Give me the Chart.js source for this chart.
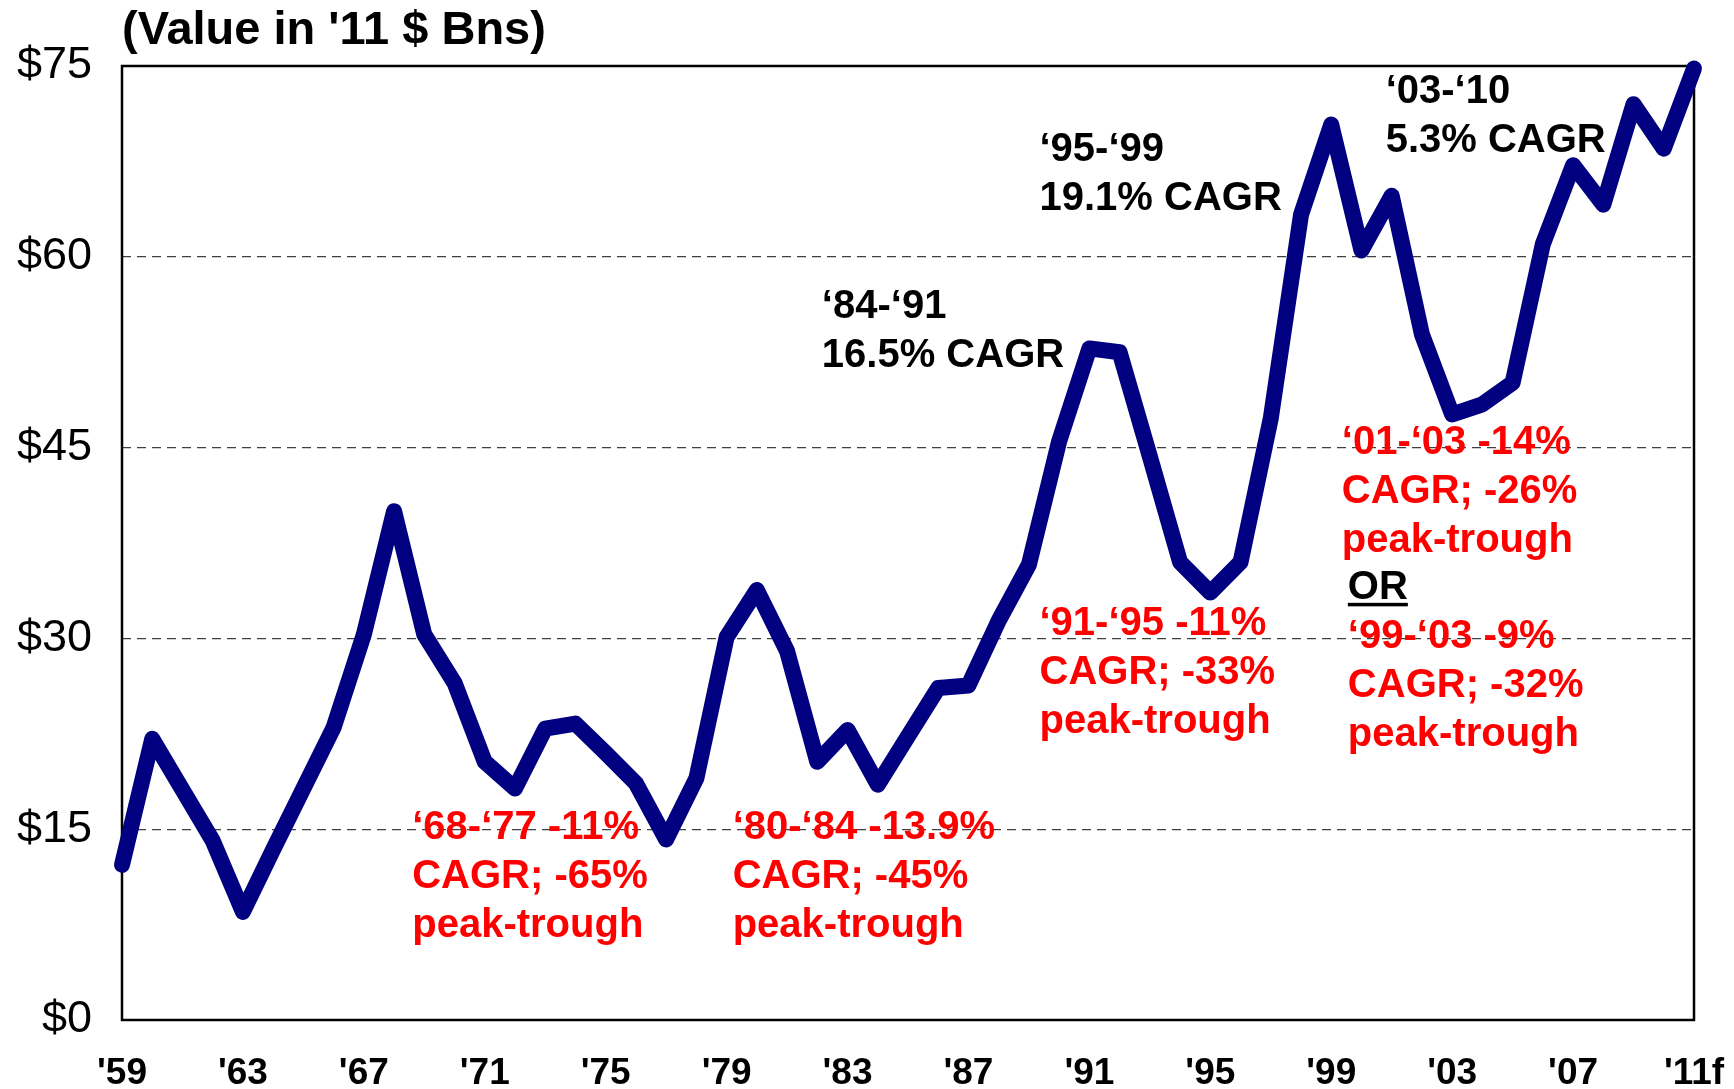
<!DOCTYPE html>
<html>
<head>
<meta charset="utf-8">
<title>Value in '11 $ Bns</title>
<script src="https://cdn.jsdelivr.net/npm/chart.js@4.4.1/dist/chart.umd.min.js"></script>
<style>
  html, body { margin: 0; padding: 0; background: #ffffff; }
  #wrap { width: 1734px; height: 1089px; position: relative; }
</style>
</head>
<body>
<div id="wrap"><canvas id="valueChart"></canvas></div>
<script>
/* ------------------------------------------------------------
   Data
   ------------------------------------------------------------ */

const years = [
    1959, 1960, 1961, 1962, 1963, 1964, 1965, 1966, 1967, 1968,
    1969, 1970, 1971, 1972, 1973, 1974, 1975, 1976, 1977, 1978,
    1979, 1980, 1981, 1982, 1983, 1984, 1985, 1986, 1987, 1988,
    1989, 1990, 1991, 1992, 1993, 1994, 1995, 1996, 1997, 1998,
    1999, 2000, 2001, 2002, 2003, 2004, 2005, 2006, 2007, 2008,
    2009, 2010, 2011
];

const values = [
    12.2, 22.1, 18.1, 14.1, 8.5, 13.4, 18.2, 23.0, 30.3, 40.0,
    30.3, 26.5, 20.3, 18.2, 22.9, 23.3, 21.0, 18.6, 14.2, 19.0,
    30.1, 33.8, 29.0, 20.3, 22.8, 18.5, 22.3, 26.1, 26.3, 31.4,
    35.8, 45.5, 52.8, 52.5, 44.3, 36.0, 33.6, 36.0, 47.3, 63.3,
    70.4, 60.5, 64.8, 53.9, 47.6, 48.4, 50.1, 61.0, 67.2, 64.1,
    72.0, 68.5, 74.8
];

const tickYears = [1959, 1963, 1967, 1971, 1975, 1979, 1983, 1987, 1991, 1995, 1999, 2003, 2007, 2011];
const tickLabels = ["'59", "'63", "'67", "'71", "'75", "'79", "'83", "'87", "'91", "'95", "'99", "'03", "'07", "'11f"];

const chartTitle = "(Value in '11 $ Bns)";

// Annotation blocks: anchor (year, value) is the top-left of the first line
const growthNotes = [
    { year: 1982.15, value: 57.6, lines: ["\u201884-\u201891", "16.5% CAGR"] },
    { year: 1989.35, value: 70.0, lines: ["\u201895-\u201899", "19.1% CAGR"] },
    { year: 2000.8, value: 74.5, lines: ["\u201803-\u201810", "5.3% CAGR"] }
];

const declineNotes = [
    { year: 1968.6, value: 16.7, lines: ["\u201868-\u201877 -11%", "CAGR; -65%", "peak-trough"] },
    { year: 1979.2, value: 16.7, lines: ["\u201880-\u201884 -13.9%", "CAGR; -45%", "peak-trough"] },
    { year: 1989.35, value: 32.7, lines: ["\u201891-\u201895 -11%", "CAGR; -33%", "peak-trough"] },
    { year: 1999.35, value: 46.9, lines: ["\u201801-\u201803 -14%", "CAGR; -26%", "peak-trough"] },
    { year: 1999.55, value: 31.7, lines: ["\u201899-\u201803 -9%", "CAGR; -32%", "peak-trough"] }
];

const orNote = { year: 1999.55, value: 35.5, text: "OR" };


/* ------------------------------------------------------------
   Styling
   ------------------------------------------------------------ */

const FONT = "'Liberation Sans', Arial, Helvetica, sans-serif";
const NAVY = "#000080";
const NOTE_SIZE = 40;
const NOTE_LINE = 49;

Chart.defaults.font.family = FONT;
Chart.defaults.color = "#000000";


/* ------------------------------------------------------------
   Plugins: frame, title, text annotations
   ------------------------------------------------------------ */

const framePlugin = {
    id: "frame",
    beforeDatasetsDraw(chart) {
        const { ctx, chartArea: a } = chart;
        ctx.save();
        ctx.strokeStyle = "#000000";
        ctx.lineWidth = 2.5;
        ctx.strokeRect(a.left, a.top, a.right - a.left, a.bottom - a.top);
        ctx.restore();
    }
};

const titlePlugin = {
    id: "cornerTitle",
    afterDraw(chart) {
        const { ctx, chartArea: a } = chart;
        ctx.save();
        ctx.font = "bold 47px " + FONT;
        ctx.fillStyle = "#000000";
        ctx.textBaseline = "alphabetic";
        ctx.fillText(chartTitle, a.left, a.top - 22);
        ctx.restore();
    }
};

function drawBlock(ctx, x, y, lines, color) {
    ctx.fillStyle = color;
    lines.forEach((line, i) => {
        ctx.fillText(line, x, y + i * NOTE_LINE);
    });
}

const notesPlugin = {
    id: "notes",
    afterDatasetsDraw(chart) {
        const { ctx, scales } = chart;
        const xs = scales.x;
        const ys = scales.y;
        ctx.save();
        ctx.font = "bold " + NOTE_SIZE + "px " + FONT;
        ctx.textBaseline = "top";
        ctx.textAlign = "left";

        growthNotes.forEach(n => {
            drawBlock(ctx, xs.getPixelForValue(n.year), ys.getPixelForValue(n.value), n.lines, "#000000");
        });
        declineNotes.forEach(n => {
            drawBlock(ctx, xs.getPixelForValue(n.year), ys.getPixelForValue(n.value), n.lines, "#ff0000");
        });

        // "OR" with underline
        const ox = xs.getPixelForValue(orNote.year);
        const oy = ys.getPixelForValue(orNote.value);
        ctx.fillStyle = "#000000";
        ctx.fillText(orNote.text, ox, oy);
        const w = ctx.measureText(orNote.text).width;
        ctx.fillRect(ox, oy + NOTE_SIZE * 0.86, w, 3.5);
        ctx.restore();
    }
};


/* ------------------------------------------------------------
   Chart
   ------------------------------------------------------------ */

const ctx = document.getElementById("valueChart").getContext("2d");

new Chart(ctx, {
    type: "line",
    data: {
        datasets: [{
            label: "Value in '11 $ Bns",
            data: years.map((yr, i) => ({ x: yr, y: values[i] })),
            borderColor: NAVY,
            backgroundColor: NAVY,
            borderWidth: 16,
            borderJoinStyle: "round",
            borderCapStyle: "round",
            pointRadius: 0,
            pointHoverRadius: 0,
            tension: 0,
            fill: false,
            clip: false
        }]
    },
    options: {
        responsive: true,
        maintainAspectRatio: false,
        animation: false,
        layout: {
            padding: { top: 66, right: 40, left: 0, bottom: 0 }
        },
        plugins: {
            legend: { display: false },
            tooltip: { enabled: false },
            title: { display: false }
        },
        scales: {
            x: {
                type: "linear",
                min: 1959,
                max: 2011,
                afterFit(scale) {
                    scale.height = 69;
                    scale.paddingLeft = 0;
                    scale.paddingRight = 0;
                },
                afterBuildTicks(scale) {
                    scale.ticks = tickYears.map(v => ({ value: v }));
                },
                ticks: {
                    autoSkip: false,
                    maxRotation: 0,
                    padding: 32,
                    font: { size: 37, weight: "bold" },
                    color: "#000000",
                    callback(value) {
                        const i = tickYears.indexOf(value);
                        return i >= 0 ? tickLabels[i] : "";
                    }
                },
                grid: { display: false, drawTicks: false },
                border: { display: false }
            },
            y: {
                min: 0,
                max: 75,
                afterFit(scale) { scale.width = 122; },
                ticks: {
                    stepSize: 15,
                    padding: 30,
                    font: { size: 45 },
                    color: "#000000",
                    callback(value) { return "$" + value; }
                },
                grid: {
                    drawTicks: false,
                    color: ctx => (ctx.tick.value === 0 || ctx.tick.value === 75) ? "rgba(0,0,0,0)" : "#404040",
                    lineWidth: 1.3
                },
                border: { display: false, dash: [9, 6] }
            }
        }
    },
    plugins: [framePlugin, titlePlugin, notesPlugin]
});
</script>
</body>
</html>
